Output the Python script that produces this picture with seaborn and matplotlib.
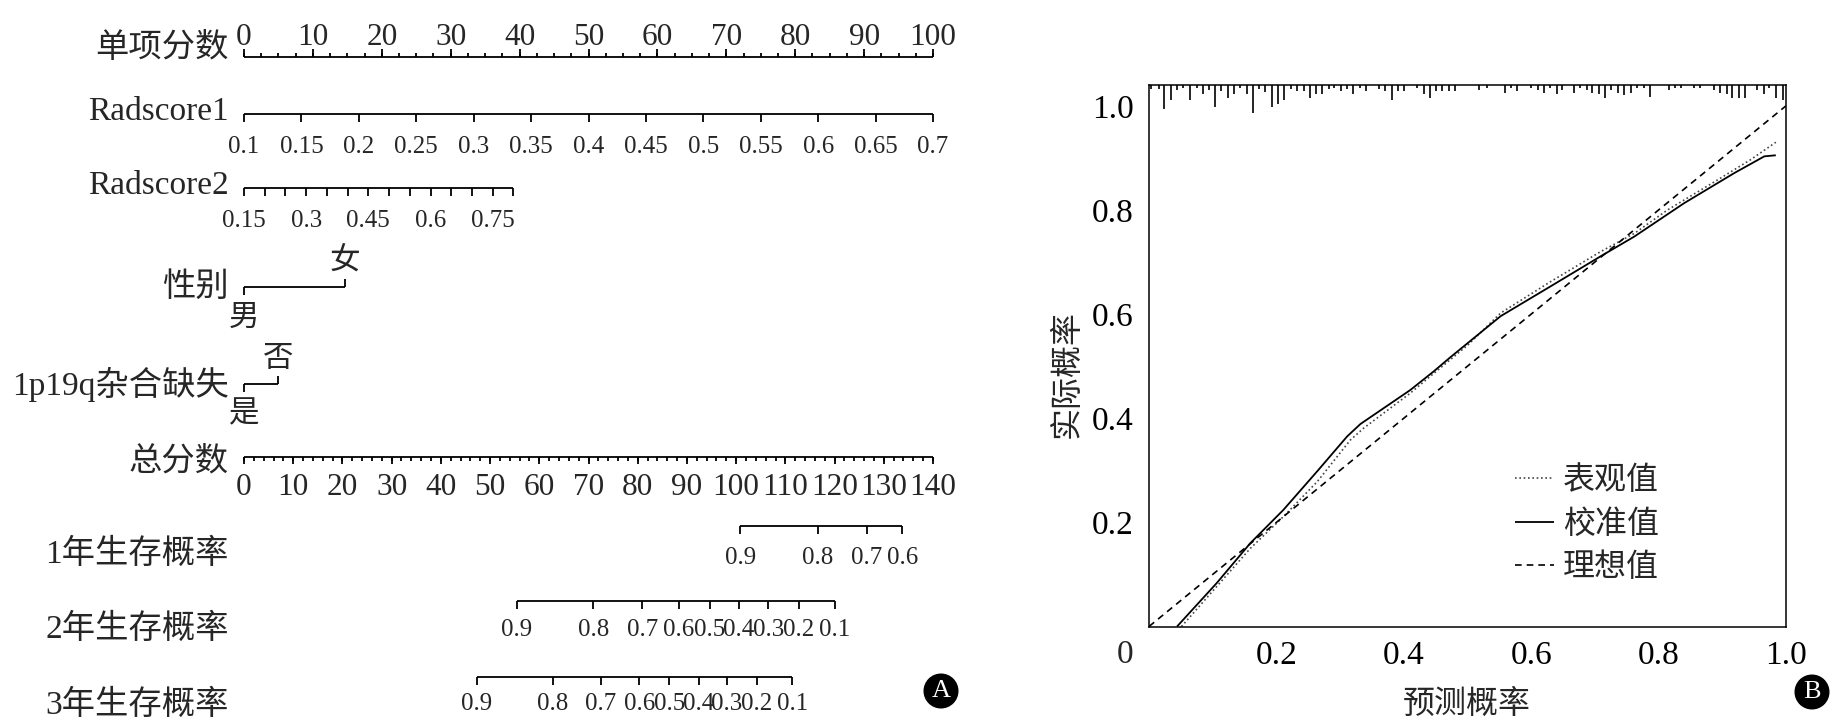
import matplotlib
matplotlib.use('Agg')
import matplotlib.pyplot as plt
import numpy as np
import pandas as pd
import seaborn as sns

# ---------------- data: nomogram (A) ----------------
points_ticks = np.arange(0, 101, 10)
points_minor = np.arange(0, 100.1, 2.5)

radscore1_ticks = [0.1, 0.15, 0.2, 0.25, 0.3, 0.35, 0.4, 0.45, 0.5, 0.55, 0.6, 0.65, 0.7]
radscore1_lo, radscore1_hi = 0.1, 0.7          # 0 .. 100 points
radscore1_max_pts = 100.0

radscore2_ticks = [0.15, 0.2, 0.25, 0.3, 0.35, 0.4, 0.45, 0.5, 0.55, 0.6, 0.65, 0.7, 0.75, 0.8]
radscore2_labels = [0.15, 0.3, 0.45, 0.6, 0.75]
radscore2_lo, radscore2_hi = 0.15, 0.8         # 0 .. 39.1 points
radscore2_max_pts = 39.1

sex_levels = ['男', '女']
sex_points = [0, 14.7]
codel_levels = ['是', '否']
codel_points = [0, 5.0]

total_ticks = np.arange(0, 141, 10)
total_minor = np.arange(0, 140.1, 2)
total_max = 140

surv1_prob = [0.9, 0.8, 0.7, 0.6]
surv1_total = [100.8, 116.6, 126.5, 133.8]
surv2_prob = [0.9, 0.8, 0.7, 0.6, 0.5, 0.4, 0.3, 0.2, 0.1]
surv2_total = [55.4, 71.0, 80.9, 88.3, 94.7, 100.6, 106.5, 112.7, 120.1]
surv3_prob = [0.9, 0.8, 0.7, 0.6, 0.5, 0.4, 0.3, 0.2, 0.1]
surv3_total = [47.3, 62.8, 72.5, 80.3, 86.4, 92.4, 98.1, 104.2, 111.4]

# ---------------- data: calibration (B) ----------------
cal_pred = [0.044, 0.106, 0.159, 0.211, 0.264, 0.311, 0.332, 0.368, 0.410, 0.447,
            0.473, 0.510, 0.552, 0.630, 0.709, 0.762, 0.840, 0.919, 0.966, 0.984]
cal_obs = [0.0, 0.083, 0.160, 0.224, 0.298, 0.365, 0.389, 0.419, 0.454, 0.490,
           0.517, 0.554, 0.596, 0.653, 0.711, 0.749, 0.813, 0.871, 0.903, 0.905]
app_pred = [0.051, 0.159, 0.211, 0.264, 0.316, 0.337, 0.410, 0.447, 0.500, 0.552,
            0.630, 0.709, 0.762, 0.814, 0.893, 0.945, 0.984]
app_obs = [0.0, 0.150, 0.211, 0.278, 0.358, 0.381, 0.448, 0.486, 0.540, 0.602,
           0.662, 0.720, 0.755, 0.800, 0.858, 0.897, 0.930]
ideal_x = [0.0, 1.0]
ideal_y = [0.0, 1.0]

# distribution of predicted probabilities (spike heights)
rug_x = [0.003, 0.015, 0.024, 0.035, 0.044, 0.053, 0.064, 0.075, 0.084, 0.094,
         0.104, 0.113, 0.124, 0.134, 0.143, 0.154, 0.163, 0.173, 0.182, 0.193,
         0.202, 0.212, 0.223, 0.232, 0.243, 0.252, 0.262, 0.272, 0.282, 0.291,
         0.301, 0.311, 0.321, 0.331, 0.341, 0.361, 0.371, 0.382, 0.391, 0.401,
         0.421, 0.431, 0.441, 0.451, 0.460, 0.471, 0.480,
         0.518, 0.530, 0.559, 0.568, 0.578, 0.600, 0.610, 0.620, 0.629, 0.640,
         0.649, 0.667, 0.677, 0.687, 0.696, 0.707, 0.716, 0.726, 0.736, 0.745,
         0.756, 0.766, 0.777, 0.787, 0.817, 0.826, 0.835, 0.856, 0.865, 0.887,
         0.897, 0.907, 0.916, 0.927, 0.936, 0.955, 0.965, 0.974, 0.985, 0.995]
rug_n = [4, 4, 24, 15, 5, 3, 15, 3, 9, 5,
         22, 6, 13, 9, 3, 9, 28, 4, 7, 22,
         19, 15, 4, 6, 6, 13, 9, 9, 4, 3,
         6, 4, 9, 3, 6, 4, 6, 15, 6, 6,
         3, 9, 13, 6, 6, 6, 6,
         5, 3, 8, 3, 6, 3, 5, 8, 3, 9,
         5, 8, 3, 5, 8, 9, 13, 5, 8, 10,
         8, 3, 3, 12, 5, 3, 3, 3, 3, 5,
         8, 9, 13, 13, 13, 5, 9, 3, 13, 15]

# ---------------- style ----------------
sns.set_theme(style='white')
plt.rcParams['font.family'] = ['Liberation Serif', 'Noto Sans CJK SC', 'DejaVu Sans']
plt.rcParams['lines.solid_capstyle'] = 'butt'

W, H = 1845, 725
fig = plt.figure(figsize=(W / 100, H / 100), dpi=100)

# ================= panel A : nomogram =================
ax = fig.add_axes([244 / W, 0, 689 / W, 1])
ax.set_xlim(0, 100)
ax.set_ylim(H, 0)
ax.axis('off')

lw = 1.3
lab_fs = 24      # row titles
big_fs = 22.5    # points / total points numbers
small_fs = 18    # radscore / survival numbers
cat_fs = 22
k = dict(color='black', lw=lw, clip_on=False)


def row_title(y, s):
    ax.text(-2.2, y, s, ha='right', va='center', fontsize=lab_fs)


def scale_row(y, xs, major=None, minor=None, up=False, tick=8, minor_tick=4):
    ax.hlines(y, min(xs), max(xs), **k)
    sgn = -1 if up else 1
    ax.vlines(xs if major is None else major, y, y + sgn * tick, **k)
    if minor is not None:
        ax.vlines(minor, y, y + sgn * minor_tick, **k)


# 单项分数
y_pts = 57
row_title(48, '单项分数')
scale_row(y_pts, points_ticks, major=points_ticks, minor=points_minor, up=True, tick=8, minor_tick=4)
for v in points_ticks:
    ax.text(v, 37, f'{v:g}', ha='center', va='center', fontsize=big_fs)

# Radscore1
y_r1 = 114
row_title(112, 'Radscore1')
r1_x = [(v - radscore1_lo) / (radscore1_hi - radscore1_lo) * radscore1_max_pts for v in radscore1_ticks]
scale_row(y_r1, r1_x)
for v, x in zip(radscore1_ticks, r1_x):
    ax.text(x, 147, f'{v:g}', ha='center', va='center', fontsize=small_fs)

# Radscore2
y_r2 = 188
row_title(186, 'Radscore2')
r2_x = [(v - radscore2_lo) / (radscore2_hi - radscore2_lo) * radscore2_max_pts for v in radscore2_ticks]
scale_row(y_r2, r2_x)
for v in radscore2_labels:
    x = (v - radscore2_lo) / (radscore2_hi - radscore2_lo) * radscore2_max_pts
    ax.text(x, 221, f'{v:g}', ha='center', va='center', fontsize=small_fs)


def cat_row(y, levels, pts, title):
    row_title(y, title)
    ax.hlines(y, min(pts), max(pts), **k)
    for i, (lev, p) in enumerate(zip(levels, pts)):
        sgn = 1 if i % 2 == 0 else -1
        ax.vlines(p, y, y + sgn * 8, **k)
        ax.text(p, y + sgn * 28 + 3, lev, ha='center', va='center', fontsize=cat_fs)


cat_row(287, sex_levels, sex_points, '性别')
cat_row(384, codel_levels, codel_points, '1p19q杂合缺失')

# 总分数
y_tot = 457
row_title(462, '总分数')
tot_x = total_ticks * 100 / total_max
scale_row(y_tot, tot_x, major=tot_x, minor=total_minor * 100 / total_max, tick=7, minor_tick=4)
for v, x in zip(total_ticks, tot_x):
    ax.text(x, 487, f'{v:g}', ha='center', va='center', fontsize=big_fs)


def surv_row(y, probs, totals, title, dy=31):
    row_title(y + 28, title)
    xs = [t * 100 / total_max for t in totals]
    scale_row(y, xs)
    for p, x in zip(probs, xs):
        ax.text(x, y + dy, f'{p:g}', ha='center', va='center', fontsize=small_fs)


surv_row(526, surv1_prob, surv1_total, '1年生存概率', dy=32)
surv_row(601, surv2_prob, surv2_total, '2年生存概率', dy=29)
surv_row(677, surv3_prob, surv3_total, '3年生存概率', dy=27)

# ================= panel B : calibration =================
axb = fig.add_axes([1149 / W, (H - 626.5) / H, 637 / W, 541.5 / H])
app_df = pd.DataFrame({'pred': app_pred, 'obs': app_obs})
cal_df = pd.DataFrame({'pred': cal_pred, 'obs': cal_obs})
ideal_df = pd.DataFrame({'pred': ideal_x, 'obs': ideal_y})

sns.lineplot(data=app_df, x='pred', y='obs', ax=axb, sort=False, estimator=None,
             color='#444444', lw=1.2, ls=(0, (1, 1.6)), label='表观值')
sns.lineplot(data=cal_df, x='pred', y='obs', ax=axb, sort=False, estimator=None,
             color='black', lw=1.3, label='校准值')
sns.lineplot(data=ideal_df, x='pred', y='obs', ax=axb, sort=False, estimator=None,
             color='black', lw=1.2, ls=(0, (4, 3)), label='理想值')

y_top = 1.04
axb.set_xlim(0, 1)
axb.set_ylim(0, y_top)
spike_unit = 1 / 520
axb.vlines(rug_x, y_top - np.array(rug_n) * spike_unit, y_top, color='black', lw=1.2)

axb.set_xticks([0.2, 0.4, 0.6, 0.8, 1.0])
axb.set_xticklabels(['0.2', '0.4', '0.6', '0.8', '1.0'])
axb.set_yticks([0.2, 0.4, 0.6, 0.8, 1.0])
axb.set_yticklabels(['0.2', '0.4', '0.6', '0.8', '1.0'])
axb.tick_params(direction='in', length=5, width=1.1, labelsize=24, colors='black')
axb.tick_params(axis='x', pad=10)
axb.tick_params(axis='y', pad=11)
axb.text(-0.037, -0.052, '0', ha='center', va='center', fontsize=24,
         transform=axb.transAxes)
for s in axb.spines.values():
    s.set_color('black')
    s.set_linewidth(1.1)

axb.set_xlabel('预测概率', fontsize=23)
axb.set_ylabel('实际概率', fontsize=23)
axb.xaxis.set_label_coords(0.499, -0.117)
axb.yaxis.set_label_coords(-0.105, 0.466)

leg = axb.legend(loc='upper left', bbox_to_anchor=(0.575, 0.307), bbox_transform=axb.transData,
                 frameon=False, fontsize=23, handlelength=1.2, handletextpad=0.3,
                 labelspacing=0.43, borderpad=0, borderaxespad=0)

# panel badges
for (bx, by, s) in [(941, 691, 'A'), (1812, 692, 'B')]:
    fig.text(bx / W, 1 - by / H, s, ha='center', va='center', color='white', fontsize=19,
             bbox=dict(boxstyle='circle,pad=0.22', fc='black', ec='black'))

fig.savefig('out.png', dpi=100, facecolor='white')
